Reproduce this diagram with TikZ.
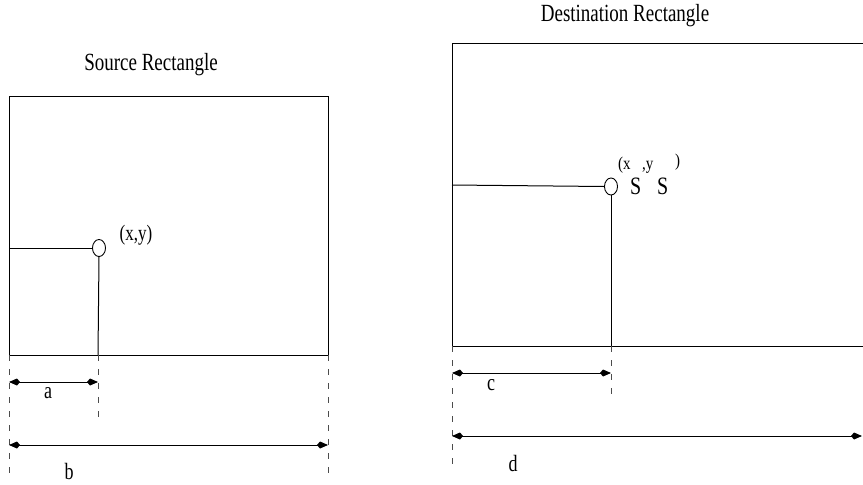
\documentclass[tikz,border=0pt]{standalone}
\usepackage{fontspec}
\setmainfont{Liberation Serif}
\usetikzlibrary{arrows.meta,shapes.geometric}
\begin{document}
\begin{tikzpicture}[x=1pt,y=-1pt,
  frame/.style={line width=1pt},
  guide/.style={line width=0.9pt, black!70, dash pattern=on 6pt off 8pt},
  tip/.tip={Kite[length=11pt,width=7pt,inset=3pt]},
  dim/.style={line width=1pt, tip-tip},
  pt/.style={draw, ellipse, line width=0.9pt, minimum width=13pt, minimum height=17pt, inner sep=0pt},
  title/.style={font=\fontsize{19}{19}\selectfont, inner sep=0pt, yscale=1.3},
  lbl/.style={font=\fontsize{18}{18}\selectfont, inner sep=0pt, yscale=1.3},
  small/.style={font=\fontsize{15}{15}\selectfont, inner sep=0pt, anchor=base west, yscale=1.2},
  big/.style={font=\fontsize{20}{20}\selectfont, inner sep=0pt, anchor=base west, yscale=1.25}]
\useasboundingbox (0,0) rectangle (863,485);
\clip (0,0) rectangle (863,485);
\fill[white] (0,0) rectangle (863,485);

% ---------- Source rectangle ----------
\coordinate (s-tl) at (9,96);
\coordinate (s-br) at (328,355);
\coordinate (s-bl) at (9,355);
\coordinate (s-left) at (9,248);
\coordinate (s-foot) at (98,355);
\node[title] (s-title) at (151,65) {Source Rectangle};
\draw[frame] (s-tl) rectangle (s-br);
\node[pt] (p) at (99,248) {};
\node[lbl, font=\fontsize{17}{17}\selectfont] (p-lbl) at (136,235) {(x,y)};
\draw[frame] (s-left) -- (p.west);
\draw[frame] (p.south) -- (s-foot);

\coordinate (g1) at (9,478);
\coordinate (g2) at (98,417);
\coordinate (g3) at (328,478);
\draw[guide] (s-bl) -- (g1);
\draw[guide] (s-foot) -- (g2);
\draw[guide] (s-br) -- (g3);

\coordinate (a1) at (9,382);
\coordinate (a2) at (98,382);
\draw[dim] (a1) -- (a2);
\node[lbl] (a-lbl) at (48,393) {a};
\coordinate (b1) at (9,445);
\coordinate (b2) at (328,445);
\draw[dim] (b1) -- (b2);
\node[lbl] (b-lbl) at (69,471) {b};

% ---------- Destination rectangle ----------
\coordinate (d-tl) at (452,43);
\coordinate (d-br) at (900,346);
\coordinate (d-bl) at (452,346);
\coordinate (d-left) at (452,185);
\coordinate (d-foot) at (611,346);
\node[title] (d-title) at (625,16) {Destination Rectangle};
\draw[frame] (d-tl) rectangle (d-br);
\node[pt] (q) at (611,186.5) {};
\draw[frame] (d-left) -- (q.west);
\draw[frame] (q.south) -- (d-foot);

\node[small] (q1) at (618,169) {(x};
\node[big]   (q2) at (630,194) {S};
\node[small] (q3) at (642,169) {,y};
\node[big]   (q4) at (657,194) {S};
\node[small] (q5) at (675,166) {)};

\coordinate (h1) at (452,466);
\coordinate (h2) at (611,400);
\draw[guide] (d-bl) -- (h1);
\draw[guide] (d-foot) -- (h2);

\coordinate (c1) at (452,373);
\coordinate (c2) at (611,373);
\draw[dim] (c1) -- (c2);
\node[lbl] (c-lbl) at (491,385) {c};
\coordinate (e1) at (452,436);
\coordinate (e2) at (862,436);
\draw[dim] (e1) -- (e2);
\node[lbl] (d-lbl) at (513,463) {d};
\end{tikzpicture}
\end{document}
